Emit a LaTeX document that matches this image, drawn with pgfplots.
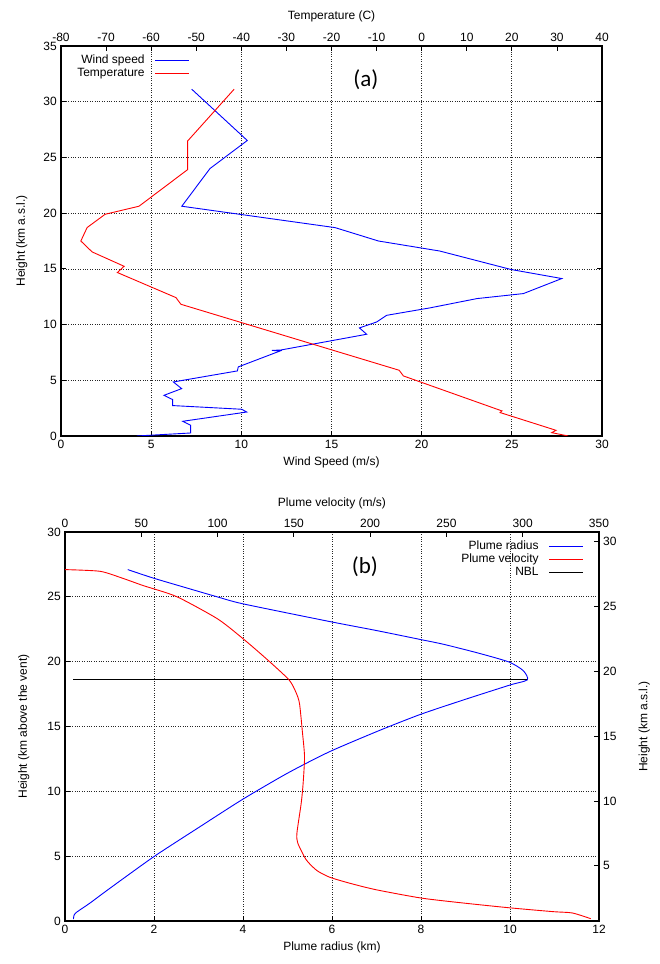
\documentclass[border=0pt]{standalone}
\usepackage{fontspec}
\setmainfont{Liberation Sans}
\newfontfamily\panelfont{Carlito}
\usepackage{pgfplots}
\pgfplotsset{compat=1.18}

\pgfplotsset{
  gp/.style={
    scale only axis,
    tick align=inside,
    major tick length=5pt,
    /pgf/number format/assume math mode=true,
    axis line style={line width=1.1pt},
    tick style={black, line width=0.8pt},
    grid style={dotted, black!85, line width=0.7pt},
    every tick label/.append style={font=\fontsize{12}{14}\selectfont},
    label style={font=\fontsize{12}{14}\selectfont},
    legend style={draw=none, fill=none, font=\fontsize{12}{14}\selectfont, row sep=-1.5pt},
    legend cell align=right,
    legend plot pos=right,
    legend image code/.code={\path (0pt,0pt); \draw[##1] (8pt,0pt) -- (42pt,0pt);},
  },
}

\begin{document}
\fontsize{12}{14}\selectfont
\begin{tikzpicture}
\useasboundingbox (0,0) rectangle (659pt,964pt);

% ---------------- panel (a) ----------------
\begin{axis}[gp,
  at={(61pt,528pt)}, anchor=south west,
  width=541pt, height=390pt,
  xmin=0, xmax=30, ymin=0, ymax=35,
  xtick={0,5,...,30}, ytick={0,5,...,35},
  xtick pos=left, ytick pos=both,
  grid=major,
  xlabel={Wind Speed (m/s)},
  ylabel={Height (km a.s.l.)},
  ylabel style={yshift=8pt},
  legend style={at={(0.2435,0.987)}, anchor=north east},
]
\addplot[blue, line width=0.9pt] coordinates {
  (4.2,0) (7.19,0.27) (7.19,0.96) (6.75,1.32) (10.3,2.15) (10.02,2.4)
  (6.19,2.73) (6.19,3.27) (5.71,3.65) (6.69,4.25) (6.23,4.85) (9.78,5.84)
  (9.83,6.2) (12.15,7.63) (11.7,7.68) (12.2,7.72) (16.95,9.13) (16.55,9.7)
  (17.5,10.23) (18.06,10.83) (20.47,11.5) (23.06,12.33) (25.64,12.78)
  (27.77,14.13) (24.96,14.94) (21.0,16.6) (17.6,17.5) (15.2,18.7)
  (6.7,20.62) (8.26,24.0) (10.33,26.52) (7.25,31.12)
};
\addlegendentry{Wind speed}
\addlegendimage{red, line width=0.9pt}
\addlegendentry{Temperature}
\node[font=\panelfont\fontsize{23}{26}\selectfont] at (axis cs:16.9,32) {(a)};
\end{axis}

\begin{axis}[gp,
  at={(61pt,528pt)}, anchor=south west,
  width=541pt, height=390pt,
  xmin=-80, xmax=40, ymin=0, ymax=35,
  xtick={-80,-70,...,40},
  axis x line*=top, axis y line=none,
  xlabel={Temperature (C)},
  xlabel style={yshift=3pt},
]
\addplot[red, line width=0.9pt] coordinates {
  (32.5,0) (28.85,0.3) (29.8,0.51) (18.2,2.0) (17.4,2.1) (17.8,2.25)
  (-4.05,5.39) (-5.0,5.9) (-53.4,11.82) (-54.5,12.42) (-67.5,14.67)
  (-66.0,15.23) (-73.1,16.52) (-75.6,17.5) (-74.2,18.71) (-70.2,19.9)
  (-62.7,20.62) (-51.9,23.91) (-51.9,26.48) (-41.6,31.12)
};
\end{axis}

% ---------------- panel (b) ----------------
\begin{axis}[gp,
  at={(65pt,43pt)}, anchor=south west,
  width=534pt, height=389pt,
  xmin=0, xmax=12, ymin=0, ymax=30,
  xtick={0,2,...,12}, ytick={0,5,...,30},
  xtick pos=left, ytick pos=left,
  grid=major,
  xlabel={Plume radius (km)},
  ylabel={Height (km above the vent)},
  ylabel style={yshift=10pt},
  legend style={at={(0.977,0.987)}, anchor=north east},
]
\addplot[blue, line width=0.9pt, smooth, tension=0.4] coordinates {
  (0.19,0.15) (0.2,0.4) (0.25,0.65) (0.56,1.38) (1.0,2.5) (2.0,4.97)
  (3.0,7.2) (4.0,9.4) (5.0,11.4) (5.94,13.05) (7.07,14.7) (8.0,15.95)
  (9.0,17.1) (10.0,18.2) (10.39,18.6) (10.3,19.3) (9.98,19.97)
  (9.3,20.65) (8.52,21.33) (8.0,21.7) (7.0,22.4) (5.94,23.1)
  (4.0,24.46) (3.42,25.0) (2.7,25.72) (1.98,26.45) (1.41,27.1)
};
\addlegendentry{Plume radius}
\addlegendimage{red, line width=0.9pt}
\addlegendentry{Plume velocity}
\addplot[black, line width=0.9pt] coordinates {(0.19,18.6) (10.39,18.6)};
\addlegendentry{NBL}
\node[font=\panelfont\fontsize{23}{26}\selectfont] at (axis cs:6.74,27.3) {(b)};
\end{axis}

\begin{axis}[gp,
  at={(65pt,43pt)}, anchor=south west,
  width=534pt, height=389pt,
  xmin=0, xmax=350, ymin=0, ymax=30,
  xtick={0,50,...,350},
  axis x line*=top, axis y line=none,
  xlabel={Plume velocity (m/s)},
  xlabel style={yshift=2pt},
]
\addplot[red, line width=0.9pt, smooth, tension=0.4] coordinates {
  (0,27.1) (22.9,26.97) (37.1,26.46) (51.2,25.87) (73.1,25.02) (100,23.3)
  (116.7,21.77) (131.9,20.23) (146.8,18.6) (151.5,17.6) (153.7,16.77)
  (155.5,14.7) (157,12.66) (156,10.5) (154.8,9.07) (152.0,6.77) (152.6,6.0)
  (158.1,4.72) (165,3.9) (173.4,3.38) (186.4,2.92) (203.9,2.41) (233.4,1.77)
  (260,1.4) (291.1,1.02) (320,0.72) (332.5,0.62) (344.6,0.18)
};
\end{axis}

\begin{axis}[gp,
  at={(65pt,43pt)}, anchor=south west,
  width=534pt, height=389pt,
  xmin=0, xmax=12, ymin=0.75, ymax=30.75,
  ytick={5,10,...,30},
  axis x line=none, axis y line*=right,
  ylabel={Height (km a.s.l.)},
  ylabel style={yshift=-14pt},
]
\end{axis}
\end{tikzpicture}
\end{document}
